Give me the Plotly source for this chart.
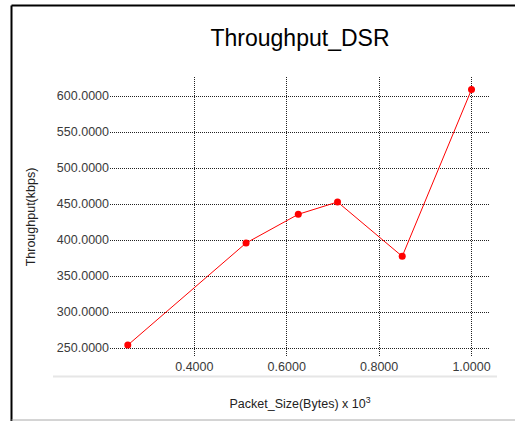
import plotly.graph_objects as go

packet_size = [0.256, 0.512, 0.625, 0.710, 0.850, 1.000]
throughput = [254.0, 395.8, 435.7, 452.8, 377.3, 609.0]
x_ticks = [0.4, 0.6, 0.8, 1.0]
y_ticks = [250, 300, 350, 400, 450, 500, 550, 600]

fig = go.Figure()
fig.add_trace(go.Scatter(
    x=packet_size, y=throughput, mode="lines+markers",
    line=dict(color="#ff0000", width=1),
    marker=dict(color="#ff0000", size=7),
    showlegend=False,
))

W, H = 515, 421
L, R, T, B = 110, 25, 77, 64
pw, ph = W - L - R, H - T - B

def px(x):
    return (x - L) / pw

def py(y):
    return (H - B - y) / ph

font = "Liberation Sans, Arial, sans-serif"
fig.update_layout(
    width=W, height=H,
    margin=dict(l=L, r=R, t=T, b=B, autoexpand=False),
    paper_bgcolor="white", plot_bgcolor="white",
    font=dict(family=font, size=12.5, color="#3a3a3a"),
    title=dict(text="Throughput_DSR", x=0.5, xanchor="center", xref="paper",
               y=1 - 38 / H, yanchor="middle", font=dict(size=23, color="black")),
    xaxis=dict(
        range=[0.2175, 1.040], tickvals=x_ticks, tickformat=".4f",
        showgrid=True, gridcolor="#222222", griddash="1px,1px", gridwidth=1,
        zeroline=False, showline=False, ticks="", automargin=False,
        title=dict(text="Packet_Size(Bytes) x 10<sup>3</sup>", standoff=26,
                   font=dict(size=12.5, color="#222222")),
    ),
    yaxis=dict(
        range=[237.5, 626.4], tickvals=y_ticks, tickformat=".4f",
        showgrid=True, gridcolor="#222222", griddash="1px,1px", gridwidth=1,
        zeroline=False, showline=False, ticks="", automargin=False,
        title=dict(text="Throughput(kbps)", standoff=18,
                   font=dict(size=12.5, color="#222222")),
    ),
    shapes=[
        dict(type="line", xref="paper", yref="paper",
             x0=px(11.5), x1=px(11.5), y0=py(5.5), y1=py(421),
             line=dict(color="black", width=2)),
        dict(type="line", xref="paper", yref="paper",
             x0=px(11.5), x1=px(515), y0=py(5.5), y1=py(5.5),
             line=dict(color="black", width=2)),
        dict(type="line", xref="paper", yref="paper",
             x0=px(11.5), x1=px(515), y0=py(420), y1=py(420),
             line=dict(color="#aaaaaa", width=1)),
        dict(type="line", xref="paper", yref="paper",
             x0=px(53), x1=px(497), y0=py(376.5), y1=py(376.5),
             line=dict(color="#e6e6e6", width=2)),
    ],
)

fig.write_html(
    "out.html",
    config={"displayModeBar": False},
    post_script="document.body.style.margin='0';document.body.style.overflow='hidden';",
)
